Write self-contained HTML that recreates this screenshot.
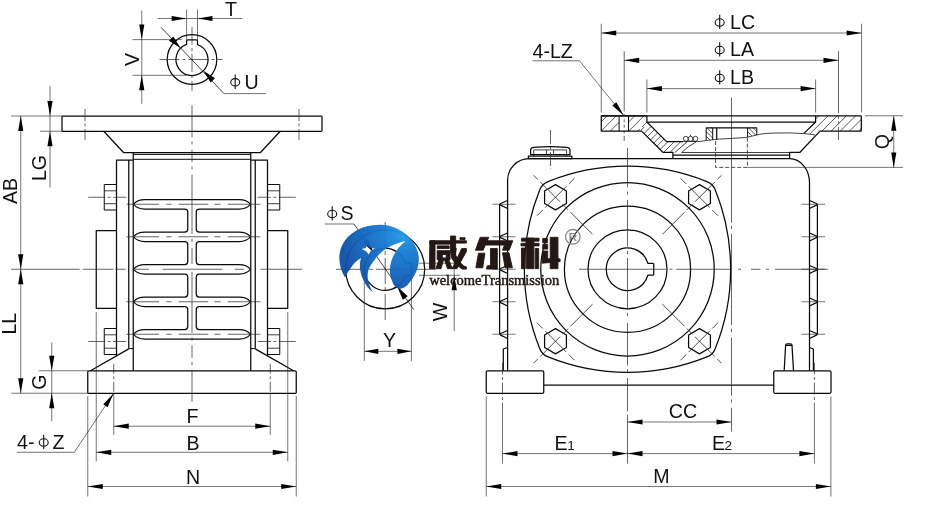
<!DOCTYPE html>
<html><head><meta charset="utf-8"><title>drawing</title>
<style>
html,body{margin:0;padding:0;background:#fff;}
svg{display:block;will-change:transform;font-family:"Liberation Sans",sans-serif;}
.o{fill:none;stroke:#0a0a0a;stroke-width:1.25;stroke-linejoin:round;stroke-linecap:butt}
.o2{fill:none;stroke:#0a0a0a;stroke-width:1.0;stroke-linejoin:round}
.o3{fill:none;stroke:#111;stroke-width:.8;stroke-linejoin:round}
.t{fill:none;stroke:#2a2a2a;stroke-width:.65}
.c{fill:none;stroke:#2a2a2a;stroke-width:.72}
.d{fill:none;stroke:#222;stroke-width:.8;stroke-dasharray:4 2}
.h{fill:none;stroke:#111;stroke-width:.7}
.a{fill:#000;stroke:none}
.p{fill:none;stroke:#111;stroke-width:1.1}
text{fill:#111}
</style></head>
<body>
<svg width="930" height="512" viewBox="0 0 930 512">
<rect x="0" y="0" width="930" height="512" fill="#fff"/>
<circle class="o" cx="192.0" cy="59.5" r="24.8"/>
<path class="o" d="M197.50,44.48 A16.0,16.0 0 1 1 186.60,44.44 L186.6,41.0 Q186.6,39.8 187.79999999999998,39.8 L196.3,39.8 Q197.5,39.8 197.5,41.0 Z" />
<line class="c" x1="159.5" y1="59.5" x2="222.5" y2="59.5" stroke-dasharray="20 3 3 3"/>
<line class="c" x1="192" y1="27" x2="192" y2="91" stroke-dasharray="18 3 3 3"/>
<line class="t" x1="157.5" y1="18.5" x2="242.5" y2="18.5" />
<line class="t" x1="186.6" y1="9.5" x2="186.6" y2="40" />
<line class="t" x1="197.5" y1="9.5" x2="197.5" y2="40" />
<polygon class="a" points="186.60,18.50 171.60,21.10 171.60,15.90"/>
<polygon class="a" points="197.50,18.50 212.50,15.90 212.50,21.10"/>
<text x="231" y="16.3" font-size="19.6" text-anchor="middle" >T</text>
<line class="t" x1="141.75" y1="10.5" x2="141.75" y2="103.75" />
<line class="t" x1="132.5" y1="39.6" x2="182" y2="39.6" />
<line class="t" x1="132.5" y1="75.3" x2="186" y2="75.3" />
<polygon class="a" points="141.75,39.60 139.15,24.60 144.35,24.60"/>
<polygon class="a" points="141.75,75.30 144.35,90.30 139.15,90.30"/>
<text x="138.6" y="59.5" font-size="19.6" text-anchor="middle" transform="rotate(-90 138.6 59.5)" >V</text>
<line class="t" x1="161" y1="27.3" x2="224" y2="93.6" style="stroke:#151515;stroke-width:.8"/>
<line class="t" x1="224" y1="93.6" x2="266" y2="93.6" />
<polygon class="a" points="180.69,48.19 168.95,40.83 173.33,36.45"/>
<polygon class="a" points="203.31,70.81 215.05,78.17 210.67,82.55"/>
<ellipse class="p" cx="235.2" cy="82.3" rx="4.5" ry="3.7"/>
<line class="p" x1="235.2" y1="74.6" x2="235.2" y2="88.89999999999999"/>
<text x="244.5" y="88.6" font-size="19.6" text-anchor="start" >U</text>
<rect class="o" x="62" y="116" width="260" height="15.25" rx="0.8"/>
<path class="o" d="M103.75,131.25 L123.5,152.5 L260.5,152.5 L280.25,131.25" />
<line class="o2" x1="133.25" y1="154.4" x2="250.75" y2="154.4" />
<line class="o2" x1="133.25" y1="159.3" x2="250.75" y2="159.3" />
<line class="o" x1="133.25" y1="152.5" x2="133.25" y2="370.75" />
<path class="o" d="M133.25,160 L116.5,160 L116.5,356" />
<line class="o" x1="128.75" y1="160" x2="128.75" y2="348.6" />
<line class="o2" x1="128.75" y1="348.6" x2="133.25" y2="348.6" />
<line class="o" x1="128.75" y1="348.9" x2="90.5" y2="370.75" />
<path class="o" d="M116.5,230.5 L96.25,230.5 L96.25,308.25 L116.5,308.25" />
<path class="o2" d="M116.5,184.5 L104.25,184.5 L104.25,210 L116.5,210" />
<line class="o3" x1="104.25" y1="190.8" x2="116.5" y2="190.8" />
<line class="o3" x1="104.25" y1="203.7" x2="116.5" y2="203.7" />
<line class="c" x1="88.25" y1="197.25" x2="126.25" y2="197.25" stroke-dasharray="17 2.5 3 2.5"/>
<path class="o2" d="M116.5,328.5 L104.25,328.5 L104.25,354.5 L116.5,354.5" />
<line class="o3" x1="104.25" y1="334.8" x2="116.5" y2="334.8" />
<line class="o3" x1="104.25" y1="348.2" x2="116.5" y2="348.2" />
<line class="c" x1="88.25" y1="341.5" x2="126.25" y2="341.5" stroke-dasharray="17 2.5 3 2.5"/>
<line class="c" x1="85.0" y1="109" x2="85.0" y2="140" stroke-dasharray="12 2.5 3 2.5"/>
<line class="c" x1="113.75" y1="363.75" x2="113.75" y2="394" stroke-dasharray="10 2.5 3 2.5"/>
<line class="t" x1="113.75" y1="394" x2="113.75" y2="435" />
<line class="t" x1="96.25" y1="312" x2="96.25" y2="461.5" />
<line class="t" x1="87.75" y1="396" x2="87.75" y2="496.5" />
<line class="o" x1="250.75" y1="152.5" x2="250.75" y2="370.75" />
<path class="o" d="M250.75,160 L267.5,160 L267.5,356" />
<line class="o" x1="255.25" y1="160" x2="255.25" y2="348.6" />
<line class="o2" x1="255.25" y1="348.6" x2="250.75" y2="348.6" />
<line class="o" x1="255.25" y1="348.9" x2="293.5" y2="370.75" />
<path class="o" d="M267.5,230.5 L287.75,230.5 L287.75,308.25 L267.5,308.25" />
<path class="o2" d="M267.5,184.5 L279.75,184.5 L279.75,210 L267.5,210" />
<line class="o3" x1="279.75" y1="190.8" x2="267.5" y2="190.8" />
<line class="o3" x1="279.75" y1="203.7" x2="267.5" y2="203.7" />
<line class="c" x1="295.75" y1="197.25" x2="257.75" y2="197.25" stroke-dasharray="17 2.5 3 2.5"/>
<path class="o2" d="M267.5,328.5 L279.75,328.5 L279.75,354.5 L267.5,354.5" />
<line class="o3" x1="279.75" y1="334.8" x2="267.5" y2="334.8" />
<line class="o3" x1="279.75" y1="348.2" x2="267.5" y2="348.2" />
<line class="c" x1="295.75" y1="341.5" x2="257.75" y2="341.5" stroke-dasharray="17 2.5 3 2.5"/>
<line class="c" x1="299.0" y1="109" x2="299.0" y2="140" stroke-dasharray="12 2.5 3 2.5"/>
<line class="c" x1="270.25" y1="363.75" x2="270.25" y2="394" stroke-dasharray="10 2.5 3 2.5"/>
<line class="t" x1="270.25" y1="394" x2="270.25" y2="435" />
<line class="t" x1="287.75" y1="312" x2="287.75" y2="461.5" />
<line class="t" x1="296.25" y1="396" x2="296.25" y2="496.5" />
<path class="o" d="M145,199.5 Q137,199.5 133.6,204.25 Q137,209.0 145,209.0" />
<path class="o" d="M239,199.5 Q247,199.5 250.4,204.25 Q247,209.0 239,209.0" />
<line class="o" x1="145" y1="199.5" x2="239" y2="199.5" />
<path class="o" d="M145,232.0 Q137,232.0 133.6,236.75 Q137,241.5 145,241.5" />
<path class="o" d="M239,232.0 Q247,232.0 250.4,236.75 Q247,241.5 239,241.5" />
<path class="o" d="M145,264.5 Q137,264.5 133.6,269.25 Q137,274.0 145,274.0" />
<path class="o" d="M239,264.5 Q247,264.5 250.4,269.25 Q247,274.0 239,274.0" />
<path class="o" d="M145,297.0 Q137,297.0 133.6,301.75 Q137,306.5 145,306.5" />
<path class="o" d="M239,297.0 Q247,297.0 250.4,301.75 Q247,306.5 239,306.5" />
<path class="o" d="M145,329.5 Q137,329.5 133.6,334.25 Q137,339.0 145,339.0" />
<path class="o" d="M239,329.5 Q247,329.5 250.4,334.25 Q247,339.0 239,339.0" />
<line class="o" x1="145" y1="339.0" x2="239" y2="339.0" />
<path class="o" d="M145,209.0 L184.75,209.0 Q187.75,209.0 187.75,212.0 L187.75,229.0 Q187.75,232.0 184.75,232.0 L145,232.0" />
<path class="o" d="M239,209.0 L199.25,209.0 Q196.25,209.0 196.25,212.0 L196.25,229.0 Q196.25,232.0 199.25,232.0 L239,232.0" />
<path class="o" d="M145,241.5 L184.75,241.5 Q187.75,241.5 187.75,244.5 L187.75,261.5 Q187.75,264.5 184.75,264.5 L145,264.5" />
<path class="o" d="M239,241.5 L199.25,241.5 Q196.25,241.5 196.25,244.5 L196.25,261.5 Q196.25,264.5 199.25,264.5 L239,264.5" />
<path class="o" d="M145,274.0 L184.75,274.0 Q187.75,274.0 187.75,277.0 L187.75,294.0 Q187.75,297.0 184.75,297.0 L145,297.0" />
<path class="o" d="M239,274.0 L199.25,274.0 Q196.25,274.0 196.25,277.0 L196.25,294.0 Q196.25,297.0 199.25,297.0 L239,297.0" />
<path class="o" d="M145,306.5 L184.75,306.5 Q187.75,306.5 187.75,309.5 L187.75,326.5 Q187.75,329.5 184.75,329.5 L145,329.5" />
<path class="o" d="M239,306.5 L199.25,306.5 Q196.25,306.5 196.25,309.5 L196.25,326.5 Q196.25,329.5 199.25,329.5 L239,329.5" />
<path class="c" d="M126.5,204.25 L159,204.25 M166.4,204.25 L171.5,204.25 M178.6,204.25 L208.3,204.25 M214.4,204.25 L220.5,204.25 M227.7,204.25 L260.4,204.25" />
<path class="c" d="M126.5,236.75 L159,236.75 M166.4,236.75 L171.5,236.75 M178.6,236.75 L208.3,236.75 M214.4,236.75 L220.5,236.75 M227.7,236.75 L260.4,236.75" />
<path class="c" d="M126.5,301.75 L159,301.75 M166.4,301.75 L171.5,301.75 M178.6,301.75 L208.3,301.75 M214.4,301.75 L220.5,301.75 M227.7,301.75 L260.4,301.75" />
<path class="c" d="M126.5,334.25 L159,334.25 M166.4,334.25 L171.5,334.25 M178.6,334.25 L208.3,334.25 M214.4,334.25 L220.5,334.25 M227.7,334.25 L260.4,334.25" />
<path class="o" d="M89,370.75 L295,370.75 Q296.25,370.75 296.25,372 L296.25,392.4 Q296.25,393.25 295.4,393.25 L88.6,393.25 Q87.75,393.25 87.75,392.4 L87.75,372 Q87.75,370.75 89,370.75 Z" />
<path class="c" d="M192,105.3 L192,137.2 M192,141.5 L192,144.5 M192,149.7 L192,162.2 M192,166.5 L192,169.5 M192,174.7 L192,234 M192,239 L192,242 M192,248 L192,264 M192,271.9 L192,332.8 M192,337.5 L192,340.5 M192,345.3 L192,357.8 M192,362 L192,365 M192,369.7 L192,401.6" />
<path class="c" d="M11.2,269.25 L79.7,269.25 M82.7,269.25 L113.4,269.25 M115.4,269.25 L125.6,269.25 M134.8,269.25 L149,269.25 M162.4,269.25 L222.5,269.25 M234.8,269.25 L244,269.25 M260.3,269.25 L302.2,269.25" />
<line class="t" x1="50" y1="86" x2="50" y2="187.5" />
<line class="t" x1="11" y1="116" x2="62" y2="116" />
<line class="t" x1="40" y1="131.25" x2="62" y2="131.25" />
<polygon class="a" points="50.00,116.00 47.40,101.00 52.60,101.00"/>
<polygon class="a" points="50.00,131.25 52.60,146.25 47.40,146.25"/>
<text x="45.5" y="168" font-size="19.6" text-anchor="middle" transform="rotate(-90 45.5 168)" >LG</text>
<line class="t" x1="20.75" y1="116" x2="20.75" y2="393.25" />
<polygon class="a" points="20.75,116.00 23.35,131.00 18.15,131.00"/>
<polygon class="a" points="20.75,269.25 18.15,254.25 23.35,254.25"/>
<polygon class="a" points="20.75,269.25 23.35,284.25 18.15,284.25"/>
<polygon class="a" points="20.75,393.25 18.15,378.25 23.35,378.25"/>
<text x="17.3" y="191" font-size="19.6" text-anchor="middle" transform="rotate(-90 17.3 191)" >AB</text>
<text x="16" y="323.7" font-size="19.6" text-anchor="middle" transform="rotate(-90 16 323.7)" >LL</text>
<line class="t" x1="51.75" y1="342.5" x2="51.75" y2="421.25" />
<line class="t" x1="38.75" y1="370.75" x2="88" y2="370.75" />
<line class="t" x1="11.25" y1="393.25" x2="88" y2="393.25" />
<polygon class="a" points="51.75,370.75 49.15,355.75 54.35,355.75"/>
<polygon class="a" points="51.75,393.25 54.35,408.25 49.15,408.25"/>
<text x="46.3" y="382" font-size="19.6" text-anchor="middle" transform="rotate(-90 46.3 382)" >G</text>
<line class="t" x1="113.75" y1="426.2" x2="270.25" y2="426.2" />
<polygon class="a" points="113.75,426.20 128.75,423.60 128.75,428.80"/>
<polygon class="a" points="270.25,426.20 255.25,428.80 255.25,423.60"/>
<line class="t" x1="96.25" y1="452.3" x2="287.75" y2="452.3" />
<polygon class="a" points="96.25,452.30 111.25,449.70 111.25,454.90"/>
<polygon class="a" points="287.75,452.30 272.75,454.90 272.75,449.70"/>
<line class="t" x1="87.75" y1="486.5" x2="296.25" y2="486.5" />
<polygon class="a" points="87.75,486.50 102.75,483.90 102.75,489.10"/>
<polygon class="a" points="296.25,486.50 281.25,489.10 281.25,483.90"/>
<text x="192.5" y="422.6" font-size="19.6" text-anchor="middle" >F</text>
<text x="193" y="449.5" font-size="19.6" text-anchor="middle" >B</text>
<text x="193" y="483.5" font-size="19.6" text-anchor="middle" >N</text>
<line class="t" x1="17" y1="452.3" x2="74.25" y2="452.3" />
<line class="t" x1="74.25" y1="452.3" x2="113.75" y2="393.25" />
<polygon class="a" points="113.75,393.25 107.57,407.16 103.25,404.27"/>
<text x="17" y="448.8" font-size="19.6" text-anchor="start" >4-</text>
<ellipse class="p" cx="43.7" cy="442.5" rx="4.5" ry="3.7"/>
<line class="p" x1="43.7" y1="434.8" x2="43.7" y2="449.1"/>
<text x="52.5" y="448.8" font-size="19.6" text-anchor="start" >Z</text>
<circle class="o" cx="385.2" cy="269.3" r="39.5"/>
<path class="o" d="M405.29,263.2 A21.0,21.0 0 1 0 405.32,275.3 L411.4,275.3 L411.4,263.2 Z" />
<line class="c" x1="336" y1="269.3" x2="436" y2="269.3" stroke-dasharray="30 3 4 3"/>
<line class="c" x1="385.2" y1="222" x2="385.2" y2="322" stroke-dasharray="26 3 4 3"/>
<line class="t" x1="364.3" y1="272" x2="364.3" y2="361" />
<line class="t" x1="411.4" y1="276" x2="411.4" y2="361" />
<line class="t" x1="364.3" y1="351.3" x2="411.4" y2="351.3" />
<polygon class="a" points="364.30,351.30 378.30,348.70 378.30,353.90"/>
<polygon class="a" points="411.40,351.30 397.40,353.90 397.40,348.70"/>
<text x="389.5" y="346.6" font-size="19.6" text-anchor="middle" >Y</text>
<line class="t" x1="454.2" y1="262" x2="454.2" y2="331" />
<polygon class="a" points="454.20,275.30 456.80,290.30 451.60,290.30"/>
<polygon class="a" points="454.20,263.20 451.60,248.20 456.80,248.20"/>
<line class="t" x1="419" y1="263.2" x2="460" y2="263.2" />
<line class="t" x1="419" y1="275.3" x2="460" y2="275.3" />
<text x="447" y="312" font-size="19.6" text-anchor="middle" transform="rotate(-90 447 312)" >W</text>
<line class="t" x1="324.8" y1="224" x2="354" y2="224" />
<line class="t" x1="354" y1="224" x2="413.7" y2="309.5" style="stroke:#151515;stroke-width:.8"/>
<polygon class="a" points="373.18,252.08 362.70,242.32 367.62,238.88"/>
<polygon class="a" points="397.22,286.52 407.70,296.28 402.78,299.72"/>
<ellipse class="p" cx="332.2" cy="214.0" rx="4.5" ry="3.7"/>
<line class="p" x1="332.2" y1="206.3" x2="332.2" y2="220.60000000000002"/>
<text x="340.5" y="220.3" font-size="19.6" text-anchor="start" >S</text>
<circle class="o" cx="627.5" cy="269.25" r="86.75"/>
<circle class="o" cx="627.5" cy="269.25" r="63.1"/>
<circle class="o" cx="627.5" cy="269.25" r="39.5"/>
<path class="o" d="M647.90,263.3 A21.25,21.25 0 1 0 647.90,275.2 L652.75,275.2 Q653.75,275.2 653.75,274.2 L653.75,264.3 Q653.75,263.3 652.75,263.3 Z" />
<path class="o" d="M548.08,181.55 A212,212 0 0 1 706.92,181.55 Q712.90,183.85 715.20,189.83 A212,212 0 0 1 715.20,348.67 Q712.90,354.65 706.92,356.95 A212,212 0 0 1 548.08,356.95 Q542.10,354.65 539.80,348.67 A212,212 0 0 1 539.80,189.83 Q542.10,183.85 548.08,181.55 Z" />
<polygon class="o" points="555.50,184.65 566.41,190.95 566.41,203.55 555.50,209.85 544.59,203.55 544.59,190.95"/>
<line class="c" x1="533.5" y1="175.25" x2="592.5" y2="234.25" stroke-dasharray="6 3.5 28 3.5 8 3.5 40 3.5" style="stroke-width:.85"/>
<line class="c" x1="574.5" y1="178.25" x2="536.5" y2="216.25" stroke-dasharray="8 3.5 30 3.5 8 3.5" style="stroke-width:.85"/>
<polygon class="o" points="555.50,328.65 566.41,334.95 566.41,347.55 555.50,353.85 544.59,347.55 544.59,334.95"/>
<line class="c" x1="533.5" y1="363.25" x2="592.5" y2="304.25" stroke-dasharray="6 3.5 28 3.5 8 3.5 40 3.5" style="stroke-width:.85"/>
<line class="c" x1="574.5" y1="360.25" x2="536.5" y2="322.25" stroke-dasharray="8 3.5 30 3.5 8 3.5" style="stroke-width:.85"/>
<polygon class="o" points="699.50,184.65 710.41,190.95 710.41,203.55 699.50,209.85 688.59,203.55 688.59,190.95"/>
<line class="c" x1="721.5" y1="175.25" x2="662.5" y2="234.25" stroke-dasharray="6 3.5 28 3.5 8 3.5 40 3.5" style="stroke-width:.85"/>
<line class="c" x1="680.5" y1="178.25" x2="718.5" y2="216.25" stroke-dasharray="8 3.5 30 3.5 8 3.5" style="stroke-width:.85"/>
<polygon class="o" points="699.50,328.65 710.41,334.95 710.41,347.55 699.50,353.85 688.59,347.55 688.59,334.95"/>
<line class="c" x1="721.5" y1="363.25" x2="662.5" y2="304.25" stroke-dasharray="6 3.5 28 3.5 8 3.5 40 3.5" style="stroke-width:.85"/>
<line class="c" x1="680.5" y1="360.25" x2="718.5" y2="322.25" stroke-dasharray="8 3.5 30 3.5 8 3.5" style="stroke-width:.85"/>
<path class="o" d="M672.9,158.7 L529,158.7 A21.5,21.5 0 0 0 507.6,180 L507.6,347.5" />
<path class="o" d="M789.6,158.7 A20,24 0 0 1 809.5,182.5 L809.5,347.5" />
<line class="o" x1="672.9" y1="158.7" x2="789.6" y2="158.7" />
<path class="o" d="M507.6,347.5 L503.3,349 L503.3,370.75" />
<line class="o" x1="507.6" y1="347.5" x2="507.6" y2="370.75" />
<path class="o" d="M809.5,347.5 L813.4,349 L813.4,370.75" />
<line class="o" x1="809.5" y1="347.5" x2="809.5" y2="370.75" />
<rect class="o" x="486.25" y="370.75" width="57.5" height="22.5" rx="1.2"/>
<rect class="o" x="773.75" y="370.75" width="57.25" height="22.5" rx="1.2"/>
<line class="o" x1="543.75" y1="385" x2="773.75" y2="385" />
<path class="o" d="M784.2,370.75 L785.6,345.4 L792,345.4 L793.5,370.75" />
<path class="o" d="M785.6,345.4 Q785.6,343.9 787,343.9 L790.6,343.9 Q792,343.9 792,345.4" />
<path class="o" d="M507.6,200.45 L500.6,203.45 Q499.2,204.25 500.6,205.15 L507.6,208.45" />
<line class="t" x1="492.5" y1="204.25" x2="515.5" y2="204.25" />
<path class="o" d="M809.5,200.45 L816.4,203.45 Q817.8,204.25 816.4,205.15 L809.5,208.45" />
<line class="t" x1="801.5" y1="204.25" x2="825" y2="204.25" />
<path class="o" d="M507.6,232.95 L500.6,235.95 Q499.2,236.75 500.6,237.65 L507.6,240.95" />
<line class="t" x1="492.5" y1="236.75" x2="515.5" y2="236.75" />
<path class="o" d="M809.5,232.95 L816.4,235.95 Q817.8,236.75 816.4,237.65 L809.5,240.95" />
<line class="t" x1="801.5" y1="236.75" x2="825" y2="236.75" />
<path class="o" d="M507.6,265.45 L500.6,268.45 Q499.2,269.25 500.6,270.15 L507.6,273.45" />
<line class="t" x1="492.5" y1="269.25" x2="515.5" y2="269.25" />
<path class="o" d="M809.5,265.45 L816.4,268.45 Q817.8,269.25 816.4,270.15 L809.5,273.45" />
<line class="t" x1="801.5" y1="269.25" x2="825" y2="269.25" />
<path class="o" d="M507.6,297.95 L500.6,300.95 Q499.2,301.75 500.6,302.65 L507.6,305.95" />
<line class="t" x1="492.5" y1="301.75" x2="515.5" y2="301.75" />
<path class="o" d="M809.5,297.95 L816.4,300.95 Q817.8,301.75 816.4,302.65 L809.5,305.95" />
<line class="t" x1="801.5" y1="301.75" x2="825" y2="301.75" />
<path class="o" d="M507.6,330.45 L500.6,333.45 Q499.2,334.25 500.6,335.15 L507.6,338.45" />
<line class="t" x1="492.5" y1="334.25" x2="515.5" y2="334.25" />
<path class="o" d="M809.5,330.45 L816.4,333.45 Q817.8,334.25 816.4,335.15 L809.5,338.45" />
<line class="t" x1="801.5" y1="334.25" x2="825" y2="334.25" />
<line class="o" x1="499.6" y1="204.25" x2="499.6" y2="334.25" />
<line class="o" x1="817.4" y1="204.25" x2="817.4" y2="334.25" />
<rect class="o" x="528.4" y="156.1" width="43.39999999999998" height="2.5999999999999943" rx="0"/>
<path class="o" d="M530.6,154.6 L530.6,149.6 Q531,147.6 534,147.3 Q550.5,145.9 566.5,147.3 Q569.6,147.6 570,149.6 L570,154.6 Z" />
<line class="o2" x1="533.7" y1="154.6" x2="533.7" y2="155.9" />
<line class="o2" x1="566.6" y1="154.6" x2="566.6" y2="155.9" />
<line class="o3" x1="533.7" y1="149.9" x2="566.6" y2="149.9" />
<line class="o3" x1="533.7" y1="149.9" x2="533.7" y2="154.6" />
<line class="o3" x1="546.4" y1="149.9" x2="546.4" y2="154.6" />
<line class="o3" x1="553.6" y1="149.9" x2="553.6" y2="154.6" />
<line class="o3" x1="566.6" y1="149.9" x2="566.6" y2="154.6" />
<line class="c" x1="550.5" y1="130" x2="550.5" y2="169" stroke-dasharray="14 2.5 3 2.5"/>
<path class="c" d="M627.5,147.8 L627.5,187 M627.5,191.5 L627.5,194.5 M627.5,200 L627.5,246.5 M627.5,251 L627.5,254 M627.5,258 L627.5,309.5 M627.5,313 L627.5,316 M627.5,323 L627.5,365.5 M627.5,369 L627.5,372.5 M627.5,378 L627.5,411 M627.5,415 L627.5,463.5" />
<path class="c" d="M579,269.25 L666,269.25 M669.5,269.25 L672.5,269.25 M676,269.25 L731.6,269.25 M738,269.25 L741,269.25 M751,269.25 L760.6,269.25 M766,269.25 L769,269.25 M775,269.25 L828,269.25" />
<path class="c" d="M731.5,97.5 L731.5,222.8 M731.5,226 L731.5,229 M731.5,233.75 L731.5,325 M731.5,328.7 L731.5,332 M731.5,337.5 L731.5,395.5 M731.5,399.5 L731.5,402.5 M731.5,407.8 L731.5,431.5" />
<defs><clipPath id="hc1"><path d="M601.25,115.75 L619.1,115.75 L619.1,131.1 L601.25,131.1 Z M628.5,115.75 L646.9,115.75 L646.9,122 L652,127 L637.4,127 L641.6,131.1 L628.5,131.1 Z M861.3,115.75 L861.3,131.1 L820,131.1 L815,135 Q809,133.9 803.75,133.6 L815.6,122 L815.6,115.75 Z"/></clipPath><clipPath id="hc2"><path d="M652,127 L666.6,141.6 L687.2,141.6 L674.7,152.3 L662.9,152.3 L637.4,127 Z"/></clipPath><clipPath id="hc3"><path d="M706.2,127.75 L712.7,127.75 L712.7,140.2 L706.2,140.2 Z M747.7,127.75 L756.8,127.75 L756.8,135 L747.7,136.6 Z"/></clipPath></defs>
<path class="h" d="M195.0,160 L245.0,110 M204.2,160 L254.2,110 M213.4,160 L263.4,110 M222.6,160 L272.6,110 M231.8,160 L281.8,110 M241.0,160 L291.0,110 M250.2,160 L300.2,110 M259.4,160 L309.4,110 M268.6,160 L318.6,110 M277.8,160 L327.8,110 M287.0,160 L337.0,110 M296.2,160 L346.2,110 M305.4,160 L355.4,110 M314.6,160 L364.6,110 M323.8,160 L373.8,110 M333.0,160 L383.0,110 M342.2,160 L392.2,110 M351.4,160 L401.4,110 M360.6,160 L410.6,110 M369.8,160 L419.8,110 M379.0,160 L429.0,110 M388.2,160 L438.2,110 M397.4,160 L447.4,110 M406.6,160 L456.6,110 M415.8,160 L465.8,110 M425.0,160 L475.0,110 M434.2,160 L484.2,110 M443.4,160 L493.4,110 M452.6,160 L502.6,110 M461.8,160 L511.8,110 M471.0,160 L521.0,110 M480.2,160 L530.2,110 M489.4,160 L539.4,110 M498.6,160 L548.6,110 M507.8,160 L557.8,110 M517.0,160 L567.0,110 M526.2,160 L576.2,110 M535.4,160 L585.4,110 M544.6,160 L594.6,110 M553.8,160 L603.8,110 M563.0,160 L613.0,110 M572.2,160 L622.2,110 M581.4,160 L631.4,110 M590.6,160 L640.6,110 M599.8,160 L649.8,110 M609.0,160 L659.0,110 M618.2,160 L668.2,110 M627.4,160 L677.4,110 M636.6,160 L686.6,110 M645.8,160 L695.8,110 M655.0,160 L705.0,110 M664.2,160 L714.2,110 M673.4,160 L723.4,110 M682.6,160 L732.6,110 M691.8,160 L741.8,110 M701.0,160 L751.0,110 M710.2,160 L760.2,110 M719.4,160 L769.4,110 M728.6,160 L778.6,110 M737.8,160 L787.8,110 M747.0,160 L797.0,110 M756.2,160 L806.2,110 M765.4,160 L815.4,110 M774.6,160 L824.6,110 M783.8,160 L833.8,110 M793.0,160 L843.0,110 M802.2,160 L852.2,110 M811.4,160 L861.4,110 M820.6,160 L870.6,110 M829.8,160 L879.8,110 M839.0,160 L889.0,110 M848.2,160 L898.2,110 M857.4,160 L907.4,110 M866.6,160 L916.6,110 M875.8,160 L925.8,110 M885.0,160 L935.0,110 M894.2,160 L944.2,110 M903.4,160 L953.4,110 M912.6,160 L962.6,110 M921.8,160 L971.8,110 M931.0,160 L981.0,110 M940.2,160 L990.2,110 M949.4,160 L999.4,110 M958.6,160 L1008.6,110 M967.8,160 L1017.8,110 M977.0,160 L1027.0,110 M986.2,160 L1036.2,110 M995.4,160 L1045.4,110 M1004.6,160 L1054.6,110 M1013.8,160 L1063.8,110 M1023.0,160 L1073.0,110 M1032.2,160 L1082.2,110 M1041.4,160 L1091.4,110 M1050.6,160 L1100.6,110 M1059.8,160 L1109.8,110 M1069.0,160 L1119.0,110 M1078.2,160 L1128.2,110 M1087.4,160 L1137.4,110 M1096.6,160 L1146.6,110 M1105.8,160 L1155.8,110 M1115.0,160 L1165.0,110 M1124.2,160 L1174.2,110 M1133.4,160 L1183.4,110 M1142.6,160 L1192.6,110 M1151.8,160 L1201.8,110 M1161.0,160 L1211.0,110 M1170.2,160 L1220.2,110 M1179.4,160 L1229.4,110 M1188.6,160 L1238.6,110 M1197.8,160 L1247.8,110 M1207.0,160 L1257.0,110 M1216.2,160 L1266.2,110 M1225.4,160 L1275.4,110 M1234.6,160 L1284.6,110 M1243.8,160 L1293.8,110 M1253.0,160 L1303.0,110 M1262.2,160 L1312.2,110 M1271.4,160 L1321.4,110 M1280.6,160 L1330.6,110 M1289.8,160 L1339.8,110 " clip-path="url(#hc1)"/>
<path class="h" d="M304.0,160 L354.0,110 M310.4,160 L360.4,110 M316.8,160 L366.8,110 M323.2,160 L373.2,110 M329.6,160 L379.6,110 M336.0,160 L386.0,110 M342.4,160 L392.4,110 M348.8,160 L398.8,110 M355.2,160 L405.2,110 M361.6,160 L411.6,110 M368.0,160 L418.0,110 M374.4,160 L424.4,110 M380.8,160 L430.8,110 M387.2,160 L437.2,110 M393.6,160 L443.6,110 M400.0,160 L450.0,110 M406.4,160 L456.4,110 M412.8,160 L462.8,110 M419.2,160 L469.2,110 M425.6,160 L475.6,110 M432.0,160 L482.0,110 M438.4,160 L488.4,110 M444.8,160 L494.8,110 M451.2,160 L501.2,110 M457.6,160 L507.6,110 M464.0,160 L514.0,110 M470.4,160 L520.4,110 M476.8,160 L526.8,110 M483.2,160 L533.2,110 M489.6,160 L539.6,110 M496.0,160 L546.0,110 M502.4,160 L552.4,110 M508.8,160 L558.8,110 M515.2,160 L565.2,110 M521.6,160 L571.6,110 M528.0,160 L578.0,110 M534.4,160 L584.4,110 M540.8,160 L590.8,110 M547.2,160 L597.2,110 M553.6,160 L603.6,110 M560.0,160 L610.0,110 M566.4,160 L616.4,110 M572.8,160 L622.8,110 M579.2,160 L629.2,110 M585.6,160 L635.6,110 M592.0,160 L642.0,110 M598.4,160 L648.4,110 M604.8,160 L654.8,110 M611.2,160 L661.2,110 M617.6,160 L667.6,110 M624.0,160 L674.0,110 M630.4,160 L680.4,110 M636.8,160 L686.8,110 M643.2,160 L693.2,110 M649.6,160 L699.6,110 M656.0,160 L706.0,110 M662.4,160 L712.4,110 M668.8,160 L718.8,110 M675.2,160 L725.2,110 M681.6,160 L731.6,110 M688.0,160 L738.0,110 M694.4,160 L744.4,110 M700.8,160 L750.8,110 M707.2,160 L757.2,110 M713.6,160 L763.6,110 M720.0,160 L770.0,110 M726.4,160 L776.4,110 M732.8,160 L782.8,110 M739.2,160 L789.2,110 M745.6,160 L795.6,110 M752.0,160 L802.0,110 M758.4,160 L808.4,110 M764.8,160 L814.8,110 M771.2,160 L821.2,110 M777.6,160 L827.6,110 M784.0,160 L834.0,110 M790.4,160 L840.4,110 M796.8,160 L846.8,110 M803.2,160 L853.2,110 M809.6,160 L859.6,110 M816.0,160 L866.0,110 M822.4,160 L872.4,110 M828.8,160 L878.8,110 M835.2,160 L885.2,110 M841.6,160 L891.6,110 M848.0,160 L898.0,110 M854.4,160 L904.4,110 M860.8,160 L910.8,110 M867.2,160 L917.2,110 M873.6,160 L923.6,110 M880.0,160 L930.0,110 M886.4,160 L936.4,110 M892.8,160 L942.8,110 M899.2,160 L949.2,110 M905.6,160 L955.6,110 M912.0,160 L962.0,110 M918.4,160 L968.4,110 M924.8,160 L974.8,110 M931.2,160 L981.2,110 M937.6,160 L987.6,110 M944.0,160 L994.0,110 M950.4,160 L1000.4,110 M956.8,160 L1006.8,110 M963.2,160 L1013.2,110 M969.6,160 L1019.6,110 M976.0,160 L1026.0,110 M982.4,160 L1032.4,110 M988.8,160 L1038.8,110 M995.2,160 L1045.2,110 M1001.6,160 L1051.6,110 M1008.0,160 L1058.0,110 M1014.4,160 L1064.4,110 M1020.8,160 L1070.8,110 M1027.2,160 L1077.2,110 M1033.6,160 L1083.6,110 M1040.0,160 L1090.0,110 M1046.4,160 L1096.4,110 M1052.8,160 L1102.8,110 M1059.2,160 L1109.2,110 M1065.6,160 L1115.6,110 " clip-path="url(#hc2)"/>
<path class="h" d="M644.0,120 L674.0,150 M648.6,120 L678.6,150 M653.2,120 L683.2,150 M657.8,120 L687.8,150 M662.4,120 L692.4,150 M667.0,120 L697.0,150 M671.6,120 L701.6,150 M676.2,120 L706.2,150 M680.8,120 L710.8,150 M685.4,120 L715.4,150 M690.0,120 L720.0,150 M694.6,120 L724.6,150 M699.2,120 L729.2,150 M703.8,120 L733.8,150 M708.4,120 L738.4,150 M713.0,120 L743.0,150 M717.6,120 L747.6,150 M722.2,120 L752.2,150 M726.8,120 L756.8,150 M731.4,120 L761.4,150 M736.0,120 L766.0,150 M740.6,120 L770.6,150 M745.2,120 L775.2,150 M749.8,120 L779.8,150 M754.4,120 L784.4,150 M759.0,120 L789.0,150 M763.6,120 L793.6,150 M768.2,120 L798.2,150 M772.8,120 L802.8,150 M777.4,120 L807.4,150 M782.0,120 L812.0,150 M786.6,120 L816.6,150 M791.2,120 L821.2,150 M795.8,120 L825.8,150 M800.4,120 L830.4,150 M805.0,120 L835.0,150 M809.6,120 L839.6,150 M814.2,120 L844.2,150 M818.8,120 L848.8,150 M823.4,120 L853.4,150 M828.0,120 L858.0,150 M832.6,120 L862.6,150 M837.2,120 L867.2,150 M841.8,120 L871.8,150 M846.4,120 L876.4,150 M851.0,120 L881.0,150 M855.6,120 L885.6,150 M860.2,120 L890.2,150 M864.8,120 L894.8,150 M869.4,120 L899.4,150 " clip-path="url(#hc3)"/>
<path class="o" d="M646.9,115.75 L601.25,115.75 L601.25,131.1 L641.6,131.1 L662.9,152.3 L672.9,152.3 L672.9,158.7" />
<line class="o2" x1="619.1" y1="115.75" x2="619.1" y2="131.1" />
<line class="o2" x1="628.5" y1="115.75" x2="628.5" y2="131.1" />
<path class="o" d="M646.9,115.75 L646.9,122 L666.6,141.6 L683.4,141.6" />
<line class="o" x1="601.25" y1="115.75" x2="861.3" y2="115.75" />
<line class="o" x1="647.5" y1="122" x2="815.6" y2="122" />
<path class="o" d="M815.6,115.75 L815.6,122 L803.75,133.6" />
<path class="o" d="M861.3,115.75 L861.3,131.1 L820,131.1 L800,152.3 L789.6,152.3 L789.6,158.7" />
<line class="o3" x1="681.6" y1="152.5" x2="800" y2="152.5" />
<line class="o" x1="672.9" y1="155.2" x2="789.6" y2="155.2" />
<path class="o3" d="M697.8,141.6 Q706,140.6 715.9,139.3 Q732,138.4 745.8,137.5 Q753,136 759.5,134.3 Q766,133.2 772,133.1 Q790,132.4 803.75,133.6 Q810,134 815,135" />
<line class="o3" x1="687.2" y1="141.8" x2="674.7" y2="152.6" />
<path class="o3" d="M695.9,142.2 Q688,146 681.6,152.5" />
<ellipse class="o3" cx="685.8" cy="138.8" rx="2.4" ry="2.5"/>
<ellipse class="o3" cx="690.6" cy="138.8" rx="2.4" ry="2.5"/>
<ellipse class="o3" cx="695.4" cy="138.8" rx="2.4" ry="2.5"/>
<line class="o3" x1="683.6" y1="141.5" x2="697.6" y2="141.5" />
<line class="o3" x1="690.4" y1="134.6" x2="690.4" y2="136.4" />
<line class="o" x1="706.2" y1="127.75" x2="756.8" y2="127.75" />
<path class="o2" d="M706.2,127.75 L706.2,140.3" />
<line class="o2" x1="712.7" y1="127.75" x2="712.7" y2="140" />
<line class="o" x1="716.7" y1="127.75" x2="716.7" y2="139.4" />
<path class="o2" d="M756.8,127.75 L756.8,135" />
<line class="o2" x1="747.6" y1="127.75" x2="747.6" y2="137.2" />
<path class="d" d="M715.6,141 L715.6,167.4 L747.4,167.4 L747.4,138" />
<line class="c" x1="624.2" y1="51.25" x2="624.2" y2="141" stroke-dasharray="60 2.5 3 2.5 3 2.5 3 2.5 3 2.5 20 0"/>
<line class="c" x1="838.5" y1="51.25" x2="838.5" y2="140" stroke-dasharray="62 2.5 3 2.5 3 2.5 20 0"/>
<line class="t" x1="601.25" y1="33" x2="861.6" y2="33" />
<polygon class="a" points="601.25,33.00 616.25,30.40 616.25,35.60"/>
<polygon class="a" points="861.60,33.00 846.60,35.60 846.60,30.40"/>
<line class="t" x1="624.2" y1="60.3" x2="838.5" y2="60.3" />
<polygon class="a" points="624.20,60.30 639.20,57.70 639.20,62.90"/>
<polygon class="a" points="838.50,60.30 823.50,62.90 823.50,57.70"/>
<line class="t" x1="646.9" y1="88.6" x2="815.6" y2="88.6" />
<polygon class="a" points="646.90,88.60 661.90,86.00 661.90,91.20"/>
<polygon class="a" points="815.60,88.60 800.60,91.20 800.60,86.00"/>
<line class="t" x1="601.25" y1="23.75" x2="601.25" y2="112.5" />
<line class="t" x1="861.6" y1="23.75" x2="861.6" y2="112.5" />
<line class="t" x1="646.9" y1="79.5" x2="646.9" y2="112.5" />
<line class="t" x1="815.6" y1="79.5" x2="815.6" y2="112.5" />
<ellipse class="p" cx="719.7" cy="22.5" rx="4.5" ry="3.7"/>
<line class="p" x1="719.7" y1="14.8" x2="719.7" y2="29.1"/>
<text x="730" y="28.8" font-size="19.6" text-anchor="start" >LC</text>
<ellipse class="p" cx="719.7" cy="50.0" rx="4.5" ry="3.7"/>
<line class="p" x1="719.7" y1="42.3" x2="719.7" y2="56.599999999999994"/>
<text x="730" y="56.3" font-size="19.6" text-anchor="start" >LA</text>
<ellipse class="p" cx="719.7" cy="78.0" rx="4.5" ry="3.7"/>
<line class="p" x1="719.7" y1="70.3" x2="719.7" y2="84.6"/>
<text x="730" y="84.3" font-size="19.6" text-anchor="start" >LB</text>
<text x="532.5" y="58" font-size="19.6" text-anchor="start" >4-LZ</text>
<line class="t" x1="532.5" y1="60.8" x2="579.5" y2="60.8" />
<line class="t" x1="579.5" y1="60.8" x2="623.75" y2="115.5" />
<polygon class="a" points="623.75,115.50 612.29,105.47 616.34,102.20"/>
<line class="t" x1="865" y1="115.75" x2="903" y2="115.75" />
<line class="t" x1="747.4" y1="167.4" x2="903" y2="167.4" />
<line class="t" x1="893.75" y1="115.75" x2="893.75" y2="167.4" />
<polygon class="a" points="893.75,115.75 896.35,130.75 891.15,130.75"/>
<polygon class="a" points="893.75,167.40 891.15,152.40 896.35,152.40"/>
<text x="889" y="141.5" font-size="19.6" text-anchor="middle" transform="rotate(-90 889 141.5)" >Q</text>
<line class="t" x1="486.25" y1="396.5" x2="486.25" y2="496.5" />
<line class="t" x1="830.9" y1="396.5" x2="830.9" y2="496.5" />
<line class="c" x1="502.5" y1="362.5" x2="502.5" y2="405" stroke-dasharray="12 2.5 3 2.5"/>
<line class="t" x1="502.5" y1="405" x2="502.5" y2="463.5" />
<line class="c" x1="814.4" y1="362.5" x2="814.4" y2="405" stroke-dasharray="12 2.5 3 2.5"/>
<line class="t" x1="814.4" y1="405" x2="814.4" y2="463.5" />
<line class="t" x1="627.5" y1="422" x2="731.5" y2="422" />
<polygon class="a" points="627.50,422.00 642.50,419.40 642.50,424.60"/>
<polygon class="a" points="731.50,422.00 716.50,424.60 716.50,419.40"/>
<line class="t" x1="502.5" y1="453.6" x2="814.4" y2="453.6" />
<polygon class="a" points="502.50,453.60 517.50,451.00 517.50,456.20"/>
<polygon class="a" points="627.50,453.60 612.50,456.20 612.50,451.00"/>
<polygon class="a" points="627.50,453.60 642.50,451.00 642.50,456.20"/>
<polygon class="a" points="814.40,453.60 799.40,456.20 799.40,451.00"/>
<line class="t" x1="486.25" y1="486.5" x2="830.9" y2="486.5" />
<polygon class="a" points="486.25,486.50 501.25,483.90 501.25,489.10"/>
<polygon class="a" points="830.90,486.50 815.90,489.10 815.90,483.90"/>
<text x="683" y="418.4" font-size="19.6" text-anchor="middle" >CC</text>
<text x="661.5" y="483.4" font-size="19.6" text-anchor="middle" >M</text>
<text x="554.5" y="450.3" font-size="19.6" text-anchor="start" >E</text>
<text x="567.3" y="450.3" font-size="13.5" text-anchor="start" >1</text>
<text x="712" y="450.3" font-size="19.6" text-anchor="start" >E</text>
<text x="724.4" y="450.3" font-size="13.5" text-anchor="start" >2</text>
<defs>
<radialGradient id="lg" gradientUnits="userSpaceOnUse" cx="403" cy="233" r="62">
<stop offset="0" stop-color="#1f9be8"/><stop offset="0.35" stop-color="#1478d0"/><stop offset="1" stop-color="#0c50a8"/>
</radialGradient></defs>
<path fill="url(#lg)" fill-rule="evenodd" opacity="0.95" d="M361.7,249.1 L365.6,247.9 L367.2,245 L369.6,247.6 L375,248.7 L370.8,250.6 L368.8,254.6 L366.2,251.2 Z M345,277.4 C339,268 337.2,255 342.3,244.9 C348,233 362,224.9 379.2,224.7 C392,224.5 405,230.5 412.6,241.4 C417,248 419.2,254 418.8,260 C418.5,268 416,275 407.3,285.3 C404,288 401,289.3 398.5,288.8 C394.5,287 393,284.5 392.4,281.8 C389.5,275 389.3,270 390.6,264.2 C392.5,255 397.5,247.5 405.6,241 C399,242.5 393,244.5 388,247.5 C381.5,251.5 377,256 373.9,260.7 C370.5,265 368.2,269 367.8,273 C367.3,278 368,282 369.5,285.3 C370.5,288 371.5,290 373,292.3 C368.5,289 365.5,285 363.4,280 C361,275 359.8,270.5 359.9,266 C359.8,263 360.2,260.5 361,258 C356.5,260.5 353.5,263.5 351,267.7 C348.5,271 346.5,274 345,277.4 Z"/>
<g fill="#231815" stroke="#231815" stroke-width="0.9" stroke-linejoin="miter">
<polygon points="429.87,240.74 454.79,240.74 454.79,244.18 429.87,244.18" />
<polygon points="454.79,240.74 466.39,240.74 466.39,243.06 454.79,243.06" />
<polygon points="459.95,237.73 465.10,237.73 465.10,239.45 459.95,239.45" />
<polygon points="429.87,240.74 435.02,240.74 435.02,268.67 429.44,268.67" />
<polygon points="450.49,236.02 455.65,236.02 455.65,254.92 458.66,260.94 463.81,266.09 466.39,266.95 466.39,269.10 462.09,269.10 456.08,264.38 451.78,258.36 450.49,251.49" />
<polygon points="437.17,245.90 449.20,245.90 449.20,248.48 437.17,248.48" />
<path fill-rule="evenodd" d="M437.17,250.63 L450.06,250.63 L450.06,259.65 L437.17,259.65 Z M442.33,254.49 L446.20,254.49 L446.20,257.93 L442.33,257.93 Z"/>
<polygon points="438.89,259.65 443.62,259.65 441.04,268.67 435.88,268.67" />
<polygon points="444.48,259.65 448.77,259.65 452.21,268.67 447.49,268.67" />
<polygon points="461.67,248.48 466.39,248.48 466.39,251.49 456.94,268.67 451.78,268.67 454.36,264.38" />
<polygon points="480.16,237.30 488.76,237.30 483.17,250.20 475.44,250.20" />
<polygon points="487.04,240.74 512.82,240.74 509.13,250.20 502.51,250.20 504.40,245.04 485.75,245.04" />
<polygon points="490.48,248.48 497.35,248.48 497.35,269.10 486.61,269.10 487.04,265.92 490.48,265.58" />
<polygon points="478.45,253.20 484.89,253.20 482.74,267.81 475.87,267.81" />
<polygon points="502.51,252.77 508.95,252.77 512.39,267.81 505.09,267.81" />
<polygon points="521.44,238.16 539.06,238.16 539.06,241.17 521.44,241.17" />
<polygon points="521.01,243.32 539.06,243.32 539.06,245.90 521.01,245.90" />
<polygon points="526.59,238.16 533.90,238.16 533.90,268.67 526.59,268.67" />
<polygon points="521.44,248.05 525.30,248.05 525.30,268.67 521.44,268.67" />
<polygon points="535.19,248.48 538.63,248.48 538.63,268.67 535.19,268.67" />
<polygon points="550.23,237.30 557.96,237.30 557.96,268.67 550.23,268.67" />
<polygon points="542.75,238.42 547.39,238.42 547.39,242.89 542.75,242.89" />
<polygon points="542.75,244.44 547.65,244.44 547.65,249.08 542.75,249.08" />
<polygon points="542.49,251.06 547.65,251.06 547.65,259.22 542.49,259.22" />
<polygon points="542.06,259.22 550.31,258.70 550.31,262.49 542.06,263.17" />
<polygon points="557.88,257.93 560.11,259.22 560.11,261.45 557.88,261.80" />
</g>
<circle cx="572.8" cy="236.8" r="7.3" fill="none" stroke="#8a8a8a" stroke-width="1.3"/>
<text x="572.8" y="241" font-size="11.5" text-anchor="middle" style="fill:#8a8a8a" font-weight="bold">R</text>
<text x="429.2" y="284.6" font-family="Liberation Serif" font-size="13.6" style="fill:#231815" stroke="#231815" stroke-width="0.45" textLength="130" lengthAdjust="spacingAndGlyphs">welcomeTransmission</text>
</svg>
</body></html>
